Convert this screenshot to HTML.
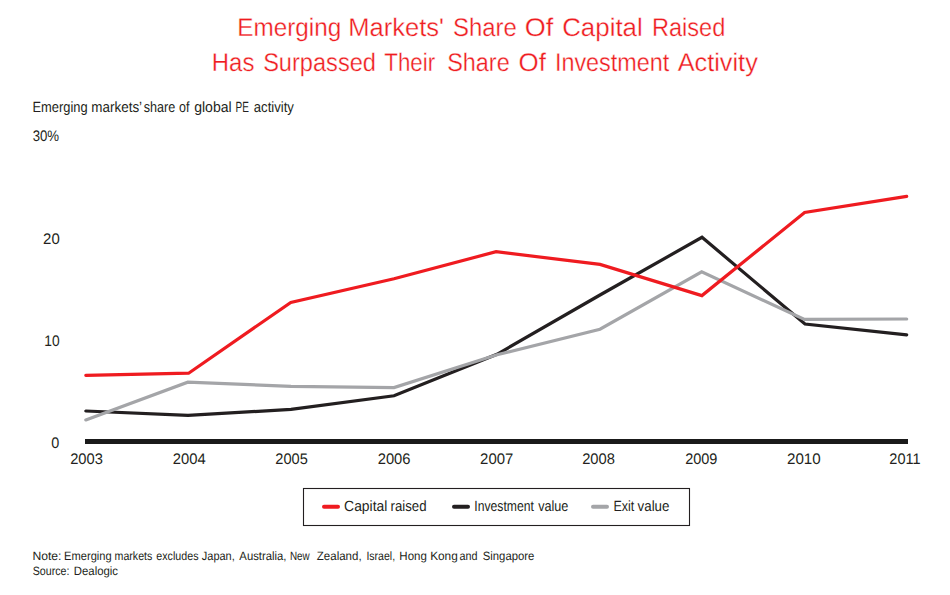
<!DOCTYPE html>
<html>
<head>
<meta charset="utf-8">
<style>
html,body{margin:0;padding:0;background:#fff;}
body{width:950px;height:595px;overflow:hidden;}
svg{display:block;}
text{font-family:"Liberation Sans",sans-serif;text-rendering:geometricPrecision;}
</style>
</head>
<body>
<svg width="950" height="595" viewBox="0 0 950 595">
<rect width="950" height="595" fill="#fff"/>
<text x="32.66" y="140.60" font-size="15.3" fill="#231f20" textLength="26.48" lengthAdjust="spacingAndGlyphs">30%</text>
<text x="43.10" y="243.60" font-size="15.3" fill="#231f20" textLength="16.63" lengthAdjust="spacingAndGlyphs">20</text>
<text x="44.29" y="345.60" font-size="15.3" fill="#231f20" textLength="15.33" lengthAdjust="spacingAndGlyphs">10</text>
<text x="51.18" y="447.60" font-size="15.3" fill="#231f20" textLength="8.03" lengthAdjust="spacingAndGlyphs">0</text>
<text x="70.13" y="463.60" font-size="15.3" fill="#231f20" textLength="32.75" lengthAdjust="spacingAndGlyphs">2003</text>
<text x="172.71" y="463.60" font-size="15.3" fill="#231f20" textLength="32.91" lengthAdjust="spacingAndGlyphs">2004</text>
<text x="275.32" y="463.60" font-size="15.3" fill="#231f20" textLength="32.47" lengthAdjust="spacingAndGlyphs">2005</text>
<text x="377.73" y="463.60" font-size="15.3" fill="#231f20" textLength="32.79" lengthAdjust="spacingAndGlyphs">2006</text>
<text x="480.08" y="463.60" font-size="15.3" fill="#231f20" textLength="33.25" lengthAdjust="spacingAndGlyphs">2007</text>
<text x="582.16" y="463.60" font-size="15.3" fill="#231f20" textLength="32.74" lengthAdjust="spacingAndGlyphs">2008</text>
<text x="685.16" y="463.60" font-size="15.3" fill="#231f20" textLength="32.24" lengthAdjust="spacingAndGlyphs">2009</text>
<text x="786.98" y="463.60" font-size="15.3" fill="#231f20" textLength="33.74" lengthAdjust="spacingAndGlyphs">2010</text>
<text x="889.33" y="463.60" font-size="15.3" fill="#231f20" textLength="31.30" lengthAdjust="spacingAndGlyphs">2011</text>
<text x="237.29" y="36.10" font-size="25.5" fill="#ef1b20" textLength="103.99" lengthAdjust="spacingAndGlyphs" stroke="#fff" stroke-width="0.3">Emerging</text>
<text x="348.26" y="36.10" font-size="25.5" fill="#ef1b20" textLength="95.61" lengthAdjust="spacingAndGlyphs" stroke="#fff" stroke-width="0.3">Markets'</text>
<text x="452.95" y="36.10" font-size="25.5" fill="#ef1b20" textLength="63.78" lengthAdjust="spacingAndGlyphs" stroke="#fff" stroke-width="0.3">Share</text>
<text x="524.78" y="36.10" font-size="25.5" fill="#ef1b20" textLength="28.51" lengthAdjust="spacingAndGlyphs" stroke="#fff" stroke-width="0.3">Of</text>
<text x="562.16" y="36.10" font-size="25.5" fill="#ef1b20" textLength="80.63" lengthAdjust="spacingAndGlyphs" stroke="#fff" stroke-width="0.3">Capital</text>
<text x="651.92" y="36.10" font-size="25.5" fill="#ef1b20" textLength="73.42" lengthAdjust="spacingAndGlyphs" stroke="#fff" stroke-width="0.3">Raised</text>
<text x="211.81" y="71.10" font-size="25.5" fill="#ef1b20" textLength="42.55" lengthAdjust="spacingAndGlyphs" stroke="#fff" stroke-width="0.3">Has</text>
<text x="263.13" y="71.10" font-size="25.5" fill="#ef1b20" textLength="112.86" lengthAdjust="spacingAndGlyphs" stroke="#fff" stroke-width="0.3">Surpassed</text>
<text x="384.27" y="71.10" font-size="25.5" fill="#ef1b20" textLength="50.83" lengthAdjust="spacingAndGlyphs" stroke="#fff" stroke-width="0.3">Their</text>
<text x="447.19" y="71.10" font-size="25.5" fill="#ef1b20" textLength="62.49" lengthAdjust="spacingAndGlyphs" stroke="#fff" stroke-width="0.3">Share</text>
<text x="518.64" y="71.10" font-size="25.5" fill="#ef1b20" textLength="27.37" lengthAdjust="spacingAndGlyphs" stroke="#fff" stroke-width="0.3">Of</text>
<text x="554.92" y="71.10" font-size="25.5" fill="#ef1b20" textLength="114.34" lengthAdjust="spacingAndGlyphs" stroke="#fff" stroke-width="0.3">Investment</text>
<text x="677.70" y="71.10" font-size="25.5" fill="#ef1b20" textLength="80.12" lengthAdjust="spacingAndGlyphs" stroke="#fff" stroke-width="0.3">Activity</text>
<text x="32.46" y="111.50" font-size="14.8" fill="#231f20" textLength="55.17" lengthAdjust="spacingAndGlyphs">Emerging</text>
<text x="91.35" y="111.50" font-size="14.8" fill="#231f20" textLength="50.76" lengthAdjust="spacingAndGlyphs">markets’</text>
<text x="143.70" y="111.50" font-size="14.8" fill="#231f20" textLength="31.49" lengthAdjust="spacingAndGlyphs">share</text>
<text x="179.11" y="111.50" font-size="14.8" fill="#231f20" textLength="10.41" lengthAdjust="spacingAndGlyphs">of</text>
<text x="194.17" y="111.50" font-size="14.8" fill="#231f20" textLength="37.52" lengthAdjust="spacingAndGlyphs">global</text>
<text x="235.57" y="111.50" font-size="14.8" fill="#231f20" textLength="13.39" lengthAdjust="spacingAndGlyphs">PE</text>
<text x="253.78" y="111.50" font-size="14.8" fill="#231f20" textLength="40.14" lengthAdjust="spacingAndGlyphs">activity</text>
<text x="32.42" y="560.30" font-size="12.1" fill="#231f20" textLength="29.10" lengthAdjust="spacingAndGlyphs">Note:</text>
<text x="64.11" y="560.30" font-size="12.1" fill="#231f20" textLength="47.52" lengthAdjust="spacingAndGlyphs">Emerging</text>
<text x="114.54" y="560.30" font-size="12.1" fill="#231f20" textLength="37.80" lengthAdjust="spacingAndGlyphs">markets</text>
<text x="156.34" y="560.30" font-size="12.1" fill="#231f20" textLength="42.19" lengthAdjust="spacingAndGlyphs">excludes</text>
<text x="201.82" y="560.30" font-size="12.1" fill="#231f20" textLength="32.96" lengthAdjust="spacingAndGlyphs">Japan,</text>
<text x="239.36" y="560.30" font-size="12.1" fill="#231f20" textLength="47.14" lengthAdjust="spacingAndGlyphs">Australia,</text>
<text x="289.94" y="560.30" font-size="12.1" fill="#231f20" textLength="19.73" lengthAdjust="spacingAndGlyphs">New</text>
<text x="316.84" y="560.30" font-size="12.1" fill="#231f20" textLength="44.78" lengthAdjust="spacingAndGlyphs">Zealand,</text>
<text x="366.39" y="560.30" font-size="12.1" fill="#231f20" textLength="28.73" lengthAdjust="spacingAndGlyphs">Israel,</text>
<text x="399.35" y="560.30" font-size="12.1" fill="#231f20" textLength="27.52" lengthAdjust="spacingAndGlyphs">Hong</text>
<text x="430.13" y="560.30" font-size="12.1" fill="#231f20" textLength="27.67" lengthAdjust="spacingAndGlyphs">Kong</text>
<text x="459.51" y="560.30" font-size="12.1" fill="#231f20" textLength="18.03" lengthAdjust="spacingAndGlyphs">and</text>
<text x="482.75" y="560.30" font-size="12.1" fill="#231f20" textLength="51.56" lengthAdjust="spacingAndGlyphs">Singapore</text>
<text x="32.72" y="574.50" font-size="12.1" fill="#231f20" textLength="36.76" lengthAdjust="spacingAndGlyphs">Source:</text>
<text x="73.76" y="574.50" font-size="12.1" fill="#231f20" textLength="44.30" lengthAdjust="spacingAndGlyphs">Dealogic</text>
<text x="344.10" y="510.50" font-size="14.8" fill="#231f20" textLength="43.24" lengthAdjust="spacingAndGlyphs">Capital</text>
<text x="390.58" y="510.50" font-size="14.8" fill="#231f20" textLength="36.00" lengthAdjust="spacingAndGlyphs">raised</text>
<text x="474.30" y="510.50" font-size="14.8" fill="#231f20" textLength="59.58" lengthAdjust="spacingAndGlyphs">Investment</text>
<text x="538.18" y="510.50" font-size="14.8" fill="#231f20" textLength="30.23" lengthAdjust="spacingAndGlyphs">value</text>
<text x="613.38" y="510.50" font-size="14.8" fill="#231f20" textLength="20.81" lengthAdjust="spacingAndGlyphs">Exit</text>
<text x="637.61" y="510.50" font-size="14.8" fill="#231f20" textLength="31.81" lengthAdjust="spacingAndGlyphs">value</text>
<rect x="85" y="439" width="823" height="5" fill="#1a1a1a"/>
<g fill="none" stroke-width="3.2" stroke-linejoin="miter" stroke-linecap="round">
<polyline stroke="#231f20" points="85.8,411 188,415.4 291,409.4 394,395.8 497,354.3 600,295 702,237.3 805,324 906.7,334.8"/>
<polyline stroke="#a4a5a8" points="85.8,419.9 187.8,382.2 291,386.4 394,387.6 497,354.8 600,329.2 701.7,271.8 804.5,319.4 906.7,319.0"/>
<polyline stroke="#ef1b20" points="85.8,375.3 188.6,373.2 290.8,302.4 394,278.8 496.1,251.7 600,264.4 701.9,295.6 804.6,212.5 906.7,196.4"/>
</g>
<rect x="303.5" y="488.5" width="386" height="37" fill="none" stroke="#231f20" stroke-width="1.1"/>
<g stroke-width="4" stroke-linecap="round">
<line x1="324" y1="506.8" x2="338" y2="506.8" stroke="#ef1b20"/>
<line x1="454" y1="506.8" x2="468" y2="506.8" stroke="#231f20"/>
<line x1="593" y1="506.8" x2="607" y2="506.8" stroke="#a4a5a8"/>
</g>
</svg>
</body>
</html>
